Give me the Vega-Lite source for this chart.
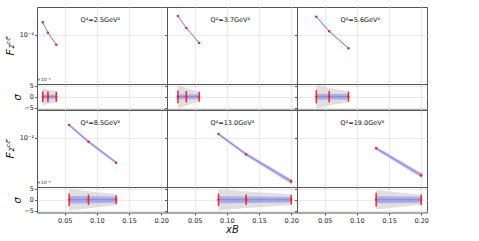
{
  "$schema": "https://vega.github.io/schema/vega-lite/v6.json",
  "padding": {"left": 3, "top": 6, "right": 0, "bottom": 0},
  "background": "white",
  "config": {
    "view": {"stroke": "#555555", "strokeWidth": 1},
    "font": "DejaVu Sans",
    "axis": {
      "domain": false,
      "tickColor": "#333333",
      "tickSize": 2.5,
      "tickWidth": 0.8,
      "tickCount": 10,
      "labelFontSize": 6.5,
      "labelColor": "#222222",
      "labelFont": "DejaVu Sans",
      "labelPadding": 1,
      "labelFlush": false,
      "labelOverlap": false,
      "gridColor": "#e4e4e4",
      "gridWidth": 0.8,
      "titleFont": "DejaVu Sans",
      "titleFontWeight": "normal",
      "titleColor": "#111111"
    },
    "title": {"font": "DejaVu Sans", "fontWeight": "normal"}
  },
  "datasets": {
    "pts": [
      {"q2": "2.5", "label": "Q²=2.5GeV²", "x": 0.016, "F2": 0.01561, "bandLo": 0.01514, "bandHi": 0.01608, "errLo": 0.01530, "errHi": 0.01592, "res": 0, "gLo": -4.0, "gHi": 4.0, "bLo": -1.0, "bHi": 1.0, "rLo": -2.5, "rHi": 2.5},
      {"q2": "2.5", "label": "Q²=2.5GeV²", "x": 0.024, "F2": 0.01074, "bandLo": 0.01042, "bandHi": 0.01106, "errLo": 0.01053, "errHi": 0.01095, "res": 0, "gLo": -3.3, "gHi": 3.3, "bLo": -1.0, "bHi": 1.0, "rLo": -2.4, "rHi": 2.4},
      {"q2": "2.5", "label": "Q²=2.5GeV²", "x": 0.037, "F2": 0.00699, "bandLo": 0.00678, "bandHi": 0.00720, "errLo": 0.00685, "errHi": 0.00713, "res": 0, "gLo": -2.5, "gHi": 2.5, "bLo": -0.9, "bHi": 0.9, "rLo": -2.3, "rHi": 2.3},
      {"q2": "3.7", "label": "Q²=3.7GeV²", "x": 0.024, "F2": 0.01955, "bandLo": 0.01896, "bandHi": 0.02014, "errLo": 0.01916, "errHi": 0.01994, "res": 0, "gLo": -5.4, "gHi": 5.4, "bLo": -1.1, "bHi": 1.1, "rLo": -2.9, "rHi": 2.9},
      {"q2": "3.7", "label": "Q²=3.7GeV²", "x": 0.037, "F2": 0.01271, "bandLo": 0.01233, "bandHi": 0.01309, "errLo": 0.01246, "errHi": 0.01296, "res": 0, "gLo": -4.0, "gHi": 4.0, "bLo": -1.1, "bHi": 1.1, "rLo": -2.6, "rHi": 2.6},
      {"q2": "3.7", "label": "Q²=3.7GeV²", "x": 0.057, "F2": 0.00743, "bandLo": 0.00721, "bandHi": 0.00765, "errLo": 0.00728, "errHi": 0.00758, "res": 0, "gLo": -2.0, "gHi": 2.0, "bLo": -1.0, "bHi": 1.0, "rLo": -2.3, "rHi": 2.3},
      {"q2": "5.6", "label": "Q²=5.6GeV²", "x": 0.037, "F2": 0.01906, "bandLo": 0.01849, "bandHi": 0.01963, "errLo": 0.01868, "errHi": 0.01944, "res": 0, "gLo": -5.5, "gHi": 5.5, "bLo": -1.4, "bHi": 1.4, "rLo": -3.0, "rHi": 3.0},
      {"q2": "5.6", "label": "Q²=5.6GeV²", "x": 0.057, "F2": 0.01130, "bandLo": 0.01096, "bandHi": 0.01164, "errLo": 0.01107, "errHi": 0.01153, "res": 0, "gLo": -4.0, "gHi": 4.0, "bLo": -1.3, "bHi": 1.3, "rLo": -2.6, "rHi": 2.6},
      {"q2": "5.6", "label": "Q²=5.6GeV²", "x": 0.087, "F2": 0.00614, "bandLo": 0.00596, "bandHi": 0.00632, "errLo": 0.00602, "errHi": 0.00626, "res": 0, "gLo": -2.5, "gHi": 2.5, "bLo": -1.2, "bHi": 1.2, "rLo": -2.3, "rHi": 2.3},
      {"q2": "8.5", "label": "Q²=8.5GeV²", "x": 0.057, "F2": 0.01577, "bandLo": 0.01498, "bandHi": 0.01656, "errLo": 0.01530, "errHi": 0.01624, "res": 0, "gLo": -4.9, "gHi": 4.9, "bLo": -1.7, "bHi": 1.7, "rLo": -2.8, "rHi": 2.8},
      {"q2": "8.5", "label": "Q²=8.5GeV²", "x": 0.087, "F2": 0.00866, "bandLo": 0.00823, "bandHi": 0.00909, "errLo": 0.00840, "errHi": 0.00892, "res": 0, "gLo": -3.9, "gHi": 3.9, "bLo": -1.6, "bHi": 1.6, "rLo": -2.4, "rHi": 2.4},
      {"q2": "8.5", "label": "Q²=8.5GeV²", "x": 0.13, "F2": 0.00408, "bandLo": 0.00388, "bandHi": 0.00428, "errLo": 0.00392, "errHi": 0.00424, "res": 0, "gLo": -2.5, "gHi": 2.5, "bLo": -1.4, "bHi": 1.4, "rLo": -2.0, "rHi": 2.0},
      {"q2": "13.0", "label": "Q²=13.0GeV²", "x": 0.087, "F2": 0.01142, "bandLo": 0.01085, "bandHi": 0.01199, "errLo": 0.01108, "errHi": 0.01176, "res": 0, "gLo": -4.8, "gHi": 4.8, "bLo": -1.6, "bHi": 1.6, "rLo": -2.8, "rHi": 2.8},
      {"q2": "13.0", "label": "Q²=13.0GeV²", "x": 0.13, "F2": 0.00551, "bandLo": 0.00518, "bandHi": 0.00584, "errLo": 0.00529, "errHi": 0.00573, "res": 0, "gLo": -3.8, "gHi": 3.8, "bLo": -1.5, "bHi": 1.5, "rLo": -2.4, "rHi": 2.4},
      {"q2": "13.0", "label": "Q²=13.0GeV²", "x": 0.2, "F2": 0.00209, "bandLo": 0.00192, "bandHi": 0.00226, "errLo": 0.00195, "errHi": 0.00223, "res": 0, "gLo": -2.5, "gHi": 2.5, "bLo": -1.3, "bHi": 1.3, "rLo": -2.2, "rHi": 2.2},
      {"q2": "19.0", "label": "Q²=19.0GeV²", "x": 0.13, "F2": 0.00684, "bandLo": 0.00643, "bandHi": 0.00725, "errLo": 0.00657, "errHi": 0.00711, "res": 0, "gLo": -4.4, "gHi": 4.4, "bLo": -1.6, "bHi": 1.6, "rLo": -3.2, "rHi": 3.2},
      {"q2": "19.0", "label": "Q²=19.0GeV²", "x": 0.2, "F2": 0.00260, "bandLo": 0.00239, "bandHi": 0.00281, "errLo": 0.00242, "errHi": 0.00278, "res": 0, "gLo": -2.3, "gHi": 2.3, "bLo": -1.4, "bHi": 1.4, "rLo": -2.4, "rHi": 2.4}
    ]
  },
  "columns": 3,
  "spacing": 0,
  "bounds": "flush",
  "concat": [
    {
      "width": 130, "height": 77, "data": {"name": "pts"},
      "transform": [{"filter": "datum.q2 == '2.5'"}],
      "layer": [
        {"mark": {"type": "area", "color": "#8a8aec", "opacity": 0.6}, "encoding": {"x": {"field": "x", "type": "quantitative", "scale": {"domain": [0.007, 0.209], "nice": false, "zero": false}, "axis": {"values": [0.05, 0.1, 0.15, 0.2], "labels": false, "title": null, "grid": true}}, "y": {"field": "bandLo", "type": "quantitative", "scale": {"type": "log", "domain": [0.001706, 0.027], "nice": false}, "axis": {"values": [0.01], "labelExpr": "'10⁻²'", "title": "F₂ᶜᶜ̄", "titleFontSize": 11, "titleFontStyle": "italic", "titlePadding": 4, "grid": true}}, "y2": {"field": "bandHi"}}},
        {"mark": {"type": "line", "color": "#7878e4", "strokeWidth": 0.8}, "encoding": {"x": {"field": "x", "type": "quantitative"}, "y": {"field": "F2", "type": "quantitative"}}},
        {"mark": {"type": "rule", "color": "#ff2020", "strokeWidth": 1}, "encoding": {"x": {"field": "x", "type": "quantitative"}, "y": {"field": "errLo", "type": "quantitative"}, "y2": {"field": "errHi"}}},
        {"mark": {"type": "point", "filled": true, "color": "#ff2020", "size": 6, "opacity": 1}, "encoding": {"x": {"field": "x", "type": "quantitative"}, "y": {"field": "F2", "type": "quantitative"}}},
        {"transform": [{"aggregate": [{"op": "count", "as": "n"}], "groupby": ["label"]}], "mark": {"type": "text", "align": "left", "baseline": "bottom", "fontSize": 6.5, "fill": "#111111"}, "encoding": {"x": {"datum": 0.0747, "type": "quantitative"}, "y": {"datum": 0.0152, "type": "quantitative"}, "text": {"field": "label", "type": "nominal"}}}
      ]
    },
    {
      "width": 130, "height": 77, "data": {"name": "pts"},
      "transform": [{"filter": "datum.q2 == '3.7'"}],
      "layer": [
        {"mark": {"type": "area", "color": "#8a8aec", "opacity": 0.6}, "encoding": {"x": {"field": "x", "type": "quantitative", "scale": {"domain": [0.007, 0.209], "nice": false, "zero": false}, "axis": {"values": [0.05, 0.1, 0.15, 0.2], "labels": false, "title": null, "grid": true}}, "y": {"field": "bandLo", "type": "quantitative", "scale": {"type": "log", "domain": [0.001706, 0.027], "nice": false}, "axis": {"values": [0.01], "labels": false, "title": null, "grid": true}}, "y2": {"field": "bandHi"}}},
        {"mark": {"type": "line", "color": "#7878e4", "strokeWidth": 0.8}, "encoding": {"x": {"field": "x", "type": "quantitative"}, "y": {"field": "F2", "type": "quantitative"}}},
        {"mark": {"type": "rule", "color": "#ff2020", "strokeWidth": 1}, "encoding": {"x": {"field": "x", "type": "quantitative"}, "y": {"field": "errLo", "type": "quantitative"}, "y2": {"field": "errHi"}}},
        {"mark": {"type": "point", "filled": true, "color": "#ff2020", "size": 6, "opacity": 1}, "encoding": {"x": {"field": "x", "type": "quantitative"}, "y": {"field": "F2", "type": "quantitative"}}},
        {"transform": [{"aggregate": [{"op": "count", "as": "n"}], "groupby": ["label"]}], "mark": {"type": "text", "align": "left", "baseline": "bottom", "fontSize": 6.5, "fill": "#111111"}, "encoding": {"x": {"datum": 0.0747, "type": "quantitative"}, "y": {"datum": 0.0152, "type": "quantitative"}, "text": {"field": "label", "type": "nominal"}}}
      ]
    },
    {
      "width": 130, "height": 77, "data": {"name": "pts"},
      "transform": [{"filter": "datum.q2 == '5.6'"}],
      "layer": [
        {"mark": {"type": "area", "color": "#8a8aec", "opacity": 0.6}, "encoding": {"x": {"field": "x", "type": "quantitative", "scale": {"domain": [0.007, 0.209], "nice": false, "zero": false}, "axis": {"values": [0.05, 0.1, 0.15, 0.2], "labels": false, "title": null, "grid": true}}, "y": {"field": "bandLo", "type": "quantitative", "scale": {"type": "log", "domain": [0.001706, 0.027], "nice": false}, "axis": {"values": [0.01], "labels": false, "title": null, "grid": true}}, "y2": {"field": "bandHi"}}},
        {"mark": {"type": "line", "color": "#7878e4", "strokeWidth": 0.8}, "encoding": {"x": {"field": "x", "type": "quantitative"}, "y": {"field": "F2", "type": "quantitative"}}},
        {"mark": {"type": "rule", "color": "#ff2020", "strokeWidth": 1}, "encoding": {"x": {"field": "x", "type": "quantitative"}, "y": {"field": "errLo", "type": "quantitative"}, "y2": {"field": "errHi"}}},
        {"mark": {"type": "point", "filled": true, "color": "#ff2020", "size": 6, "opacity": 1}, "encoding": {"x": {"field": "x", "type": "quantitative"}, "y": {"field": "F2", "type": "quantitative"}}},
        {"transform": [{"aggregate": [{"op": "count", "as": "n"}], "groupby": ["label"]}], "mark": {"type": "text", "align": "left", "baseline": "bottom", "fontSize": 6.5, "fill": "#111111"}, "encoding": {"x": {"datum": 0.0747, "type": "quantitative"}, "y": {"datum": 0.0152, "type": "quantitative"}, "text": {"field": "label", "type": "nominal"}}}
      ]
    },
    {
      "width": 130, "height": 25.5, "data": {"name": "pts"},
      "title": {"text": "×10⁻⁴", "anchor": "start", "frame": "group", "fontSize": 4.5, "offset": 1, "color": "#222222"},
      "transform": [{"filter": "datum.q2 == '2.5'"}],
      "encoding": {"x": {"field": "x", "type": "quantitative", "scale": {"domain": [0.007, 0.209], "nice": false, "zero": false}, "axis": {"values": [0.05, 0.1, 0.15, 0.2], "labels": false, "title": null, "grid": true}}},
      "layer": [
        {"mark": {"type": "area", "color": "#d4d4d4", "opacity": 0.75}, "encoding": {"y": {"field": "gLo", "type": "quantitative", "scale": {"domain": [-5.8, 5.8], "nice": false}, "axis": {"values": [-5, 0, 5], "format": "d", "title": "σ", "titleFontSize": 10, "titleFontStyle": "italic", "titlePadding": 1, "grid": true}}, "y2": {"field": "gHi"}}},
        {"mark": {"type": "area", "color": "#8a8aec", "opacity": 0.6}, "encoding": {"y": {"field": "bLo", "type": "quantitative"}, "y2": {"field": "bHi"}}},
        {"mark": {"type": "line", "color": "#7878e4", "strokeWidth": 0.8}, "encoding": {"y": {"field": "res", "type": "quantitative"}}},
        {"mark": {"type": "rule", "color": "#ff2020", "strokeWidth": 1.5}, "encoding": {"y": {"field": "rLo", "type": "quantitative"}, "y2": {"field": "rHi"}}},
        {"mark": {"type": "point", "filled": true, "color": "#ff2020", "size": 6, "opacity": 1}, "encoding": {"y": {"field": "res", "type": "quantitative"}}}
      ]
    },
    {
      "width": 130, "height": 25.5, "data": {"name": "pts"},
      "transform": [{"filter": "datum.q2 == '3.7'"}],
      "encoding": {"x": {"field": "x", "type": "quantitative", "scale": {"domain": [0.007, 0.209], "nice": false, "zero": false}, "axis": {"values": [0.05, 0.1, 0.15, 0.2], "labels": false, "title": null, "grid": true}}},
      "layer": [
        {"mark": {"type": "area", "color": "#d4d4d4", "opacity": 0.75}, "encoding": {"y": {"field": "gLo", "type": "quantitative", "scale": {"domain": [-5.8, 5.8], "nice": false}, "axis": {"values": [-5, 0, 5], "labels": false, "title": null, "grid": true}}, "y2": {"field": "gHi"}}},
        {"mark": {"type": "area", "color": "#8a8aec", "opacity": 0.6}, "encoding": {"y": {"field": "bLo", "type": "quantitative"}, "y2": {"field": "bHi"}}},
        {"mark": {"type": "line", "color": "#7878e4", "strokeWidth": 0.8}, "encoding": {"y": {"field": "res", "type": "quantitative"}}},
        {"mark": {"type": "rule", "color": "#ff2020", "strokeWidth": 1.5}, "encoding": {"y": {"field": "rLo", "type": "quantitative"}, "y2": {"field": "rHi"}}},
        {"mark": {"type": "point", "filled": true, "color": "#ff2020", "size": 6, "opacity": 1}, "encoding": {"y": {"field": "res", "type": "quantitative"}}}
      ]
    },
    {
      "width": 130, "height": 25.5, "data": {"name": "pts"},
      "transform": [{"filter": "datum.q2 == '5.6'"}],
      "encoding": {"x": {"field": "x", "type": "quantitative", "scale": {"domain": [0.007, 0.209], "nice": false, "zero": false}, "axis": {"values": [0.05, 0.1, 0.15, 0.2], "labels": false, "title": null, "grid": true}}},
      "layer": [
        {"mark": {"type": "area", "color": "#d4d4d4", "opacity": 0.75}, "encoding": {"y": {"field": "gLo", "type": "quantitative", "scale": {"domain": [-5.8, 5.8], "nice": false}, "axis": {"values": [-5, 0, 5], "labels": false, "title": null, "grid": true}}, "y2": {"field": "gHi"}}},
        {"mark": {"type": "area", "color": "#8a8aec", "opacity": 0.6}, "encoding": {"y": {"field": "bLo", "type": "quantitative"}, "y2": {"field": "bHi"}}},
        {"mark": {"type": "line", "color": "#7878e4", "strokeWidth": 0.8}, "encoding": {"y": {"field": "res", "type": "quantitative"}}},
        {"mark": {"type": "rule", "color": "#ff2020", "strokeWidth": 1.5}, "encoding": {"y": {"field": "rLo", "type": "quantitative"}, "y2": {"field": "rHi"}}},
        {"mark": {"type": "point", "filled": true, "color": "#ff2020", "size": 6, "opacity": 1}, "encoding": {"y": {"field": "res", "type": "quantitative"}}}
      ]
    },
    {
      "width": 130, "height": 77, "data": {"name": "pts"},
      "transform": [{"filter": "datum.q2 == '8.5'"}],
      "layer": [
        {"mark": {"type": "area", "color": "#8a8aec", "opacity": 0.6}, "encoding": {"x": {"field": "x", "type": "quantitative", "scale": {"domain": [0.007, 0.209], "nice": false, "zero": false}, "axis": {"values": [0.05, 0.1, 0.15, 0.2], "labels": false, "title": null, "grid": true}}, "y": {"field": "bandLo", "type": "quantitative", "scale": {"type": "log", "domain": [0.001706, 0.027], "nice": false}, "axis": {"values": [0.01], "labelExpr": "'10⁻²'", "title": "F₂ᶜᶜ̄", "titleFontSize": 11, "titleFontStyle": "italic", "titlePadding": 4, "grid": true}}, "y2": {"field": "bandHi"}}},
        {"mark": {"type": "line", "color": "#7878e4", "strokeWidth": 0.8}, "encoding": {"x": {"field": "x", "type": "quantitative"}, "y": {"field": "F2", "type": "quantitative"}}},
        {"mark": {"type": "rule", "color": "#ff2020", "strokeWidth": 1}, "encoding": {"x": {"field": "x", "type": "quantitative"}, "y": {"field": "errLo", "type": "quantitative"}, "y2": {"field": "errHi"}}},
        {"mark": {"type": "point", "filled": true, "color": "#ff2020", "size": 6, "opacity": 1}, "encoding": {"x": {"field": "x", "type": "quantitative"}, "y": {"field": "F2", "type": "quantitative"}}},
        {"transform": [{"aggregate": [{"op": "count", "as": "n"}], "groupby": ["label"]}], "mark": {"type": "text", "align": "left", "baseline": "bottom", "fontSize": 6.5, "fill": "#111111"}, "encoding": {"x": {"datum": 0.0747, "type": "quantitative"}, "y": {"datum": 0.0152, "type": "quantitative"}, "text": {"field": "label", "type": "nominal"}}}
      ]
    },
    {
      "width": 130, "height": 77, "data": {"name": "pts"},
      "transform": [{"filter": "datum.q2 == '13.0'"}],
      "layer": [
        {"mark": {"type": "area", "color": "#8a8aec", "opacity": 0.6}, "encoding": {"x": {"field": "x", "type": "quantitative", "scale": {"domain": [0.007, 0.209], "nice": false, "zero": false}, "axis": {"values": [0.05, 0.1, 0.15, 0.2], "labels": false, "title": null, "grid": true}}, "y": {"field": "bandLo", "type": "quantitative", "scale": {"type": "log", "domain": [0.001706, 0.027], "nice": false}, "axis": {"values": [0.01], "labels": false, "title": null, "grid": true}}, "y2": {"field": "bandHi"}}},
        {"mark": {"type": "line", "color": "#7878e4", "strokeWidth": 0.8}, "encoding": {"x": {"field": "x", "type": "quantitative"}, "y": {"field": "F2", "type": "quantitative"}}},
        {"mark": {"type": "rule", "color": "#ff2020", "strokeWidth": 1}, "encoding": {"x": {"field": "x", "type": "quantitative"}, "y": {"field": "errLo", "type": "quantitative"}, "y2": {"field": "errHi"}}},
        {"mark": {"type": "point", "filled": true, "color": "#ff2020", "size": 6, "opacity": 1}, "encoding": {"x": {"field": "x", "type": "quantitative"}, "y": {"field": "F2", "type": "quantitative"}}},
        {"transform": [{"aggregate": [{"op": "count", "as": "n"}], "groupby": ["label"]}], "mark": {"type": "text", "align": "left", "baseline": "bottom", "fontSize": 6.5, "fill": "#111111"}, "encoding": {"x": {"datum": 0.0747, "type": "quantitative"}, "y": {"datum": 0.0152, "type": "quantitative"}, "text": {"field": "label", "type": "nominal"}}}
      ]
    },
    {
      "width": 130, "height": 77, "data": {"name": "pts"},
      "transform": [{"filter": "datum.q2 == '19.0'"}],
      "layer": [
        {"mark": {"type": "area", "color": "#8a8aec", "opacity": 0.6}, "encoding": {"x": {"field": "x", "type": "quantitative", "scale": {"domain": [0.007, 0.209], "nice": false, "zero": false}, "axis": {"values": [0.05, 0.1, 0.15, 0.2], "labels": false, "title": null, "grid": true}}, "y": {"field": "bandLo", "type": "quantitative", "scale": {"type": "log", "domain": [0.001706, 0.027], "nice": false}, "axis": {"values": [0.01], "labels": false, "title": null, "grid": true}}, "y2": {"field": "bandHi"}}},
        {"mark": {"type": "line", "color": "#7878e4", "strokeWidth": 0.8}, "encoding": {"x": {"field": "x", "type": "quantitative"}, "y": {"field": "F2", "type": "quantitative"}}},
        {"mark": {"type": "rule", "color": "#ff2020", "strokeWidth": 1}, "encoding": {"x": {"field": "x", "type": "quantitative"}, "y": {"field": "errLo", "type": "quantitative"}, "y2": {"field": "errHi"}}},
        {"mark": {"type": "point", "filled": true, "color": "#ff2020", "size": 6, "opacity": 1}, "encoding": {"x": {"field": "x", "type": "quantitative"}, "y": {"field": "F2", "type": "quantitative"}}},
        {"transform": [{"aggregate": [{"op": "count", "as": "n"}], "groupby": ["label"]}], "mark": {"type": "text", "align": "left", "baseline": "bottom", "fontSize": 6.5, "fill": "#111111"}, "encoding": {"x": {"datum": 0.0747, "type": "quantitative"}, "y": {"datum": 0.0152, "type": "quantitative"}, "text": {"field": "label", "type": "nominal"}}}
      ]
    },
    {
      "width": 130, "height": 25.5, "data": {"name": "pts"},
      "title": {"text": "×10⁻⁴", "anchor": "start", "frame": "group", "fontSize": 4.5, "offset": 1, "color": "#222222"},
      "transform": [{"filter": "datum.q2 == '8.5'"}],
      "encoding": {"x": {"field": "x", "type": "quantitative", "scale": {"domain": [0.007, 0.209], "nice": false, "zero": false}, "axis": {"values": [0.05, 0.1, 0.15, 0.2], "format": ".2f", "title": null, "grid": true, "labelPadding": 2}}},
      "layer": [
        {"mark": {"type": "area", "color": "#d4d4d4", "opacity": 0.75}, "encoding": {"y": {"field": "gLo", "type": "quantitative", "scale": {"domain": [-5.8, 5.8], "nice": false}, "axis": {"values": [-5, 0, 5], "format": "d", "title": "σ", "titleFontSize": 10, "titleFontStyle": "italic", "titlePadding": 1, "grid": true}}, "y2": {"field": "gHi"}}},
        {"mark": {"type": "area", "color": "#8a8aec", "opacity": 0.6}, "encoding": {"y": {"field": "bLo", "type": "quantitative"}, "y2": {"field": "bHi"}}},
        {"mark": {"type": "line", "color": "#7878e4", "strokeWidth": 0.8}, "encoding": {"y": {"field": "res", "type": "quantitative"}}},
        {"mark": {"type": "rule", "color": "#ff2020", "strokeWidth": 1.5}, "encoding": {"y": {"field": "rLo", "type": "quantitative"}, "y2": {"field": "rHi"}}},
        {"mark": {"type": "point", "filled": true, "color": "#ff2020", "size": 6, "opacity": 1}, "encoding": {"y": {"field": "res", "type": "quantitative"}}}
      ]
    },
    {
      "width": 130, "height": 25.5, "data": {"name": "pts"},
      "transform": [{"filter": "datum.q2 == '13.0'"}],
      "encoding": {"x": {"field": "x", "type": "quantitative", "scale": {"domain": [0.007, 0.209], "nice": false, "zero": false}, "axis": {"values": [0.05, 0.1, 0.15, 0.2], "format": ".2f", "title": "xB", "titleFontSize": 10, "titleFontStyle": "italic", "titlePadding": 1, "grid": true, "labelPadding": 2}}},
      "layer": [
        {"mark": {"type": "area", "color": "#d4d4d4", "opacity": 0.75}, "encoding": {"y": {"field": "gLo", "type": "quantitative", "scale": {"domain": [-5.8, 5.8], "nice": false}, "axis": {"values": [-5, 0, 5], "labels": false, "title": null, "grid": true}}, "y2": {"field": "gHi"}}},
        {"mark": {"type": "area", "color": "#8a8aec", "opacity": 0.6}, "encoding": {"y": {"field": "bLo", "type": "quantitative"}, "y2": {"field": "bHi"}}},
        {"mark": {"type": "line", "color": "#7878e4", "strokeWidth": 0.8}, "encoding": {"y": {"field": "res", "type": "quantitative"}}},
        {"mark": {"type": "rule", "color": "#ff2020", "strokeWidth": 1.5}, "encoding": {"y": {"field": "rLo", "type": "quantitative"}, "y2": {"field": "rHi"}}},
        {"mark": {"type": "point", "filled": true, "color": "#ff2020", "size": 6, "opacity": 1}, "encoding": {"y": {"field": "res", "type": "quantitative"}}}
      ]
    },
    {
      "width": 130, "height": 25.5, "data": {"name": "pts"},
      "transform": [{"filter": "datum.q2 == '19.0'"}],
      "encoding": {"x": {"field": "x", "type": "quantitative", "scale": {"domain": [0.007, 0.209], "nice": false, "zero": false}, "axis": {"values": [0.05, 0.1, 0.15, 0.2], "format": ".2f", "title": null, "grid": true, "labelPadding": 2}}},
      "layer": [
        {"mark": {"type": "area", "color": "#d4d4d4", "opacity": 0.75}, "encoding": {"y": {"field": "gLo", "type": "quantitative", "scale": {"domain": [-5.8, 5.8], "nice": false}, "axis": {"values": [-5, 0, 5], "labels": false, "title": null, "grid": true}}, "y2": {"field": "gHi"}}},
        {"mark": {"type": "area", "color": "#8a8aec", "opacity": 0.6}, "encoding": {"y": {"field": "bLo", "type": "quantitative"}, "y2": {"field": "bHi"}}},
        {"mark": {"type": "line", "color": "#7878e4", "strokeWidth": 0.8}, "encoding": {"y": {"field": "res", "type": "quantitative"}}},
        {"mark": {"type": "rule", "color": "#ff2020", "strokeWidth": 1.5}, "encoding": {"y": {"field": "rLo", "type": "quantitative"}, "y2": {"field": "rHi"}}},
        {"mark": {"type": "point", "filled": true, "color": "#ff2020", "size": 6, "opacity": 1}, "encoding": {"y": {"field": "res", "type": "quantitative"}}}
      ]
    }
  ]
}
